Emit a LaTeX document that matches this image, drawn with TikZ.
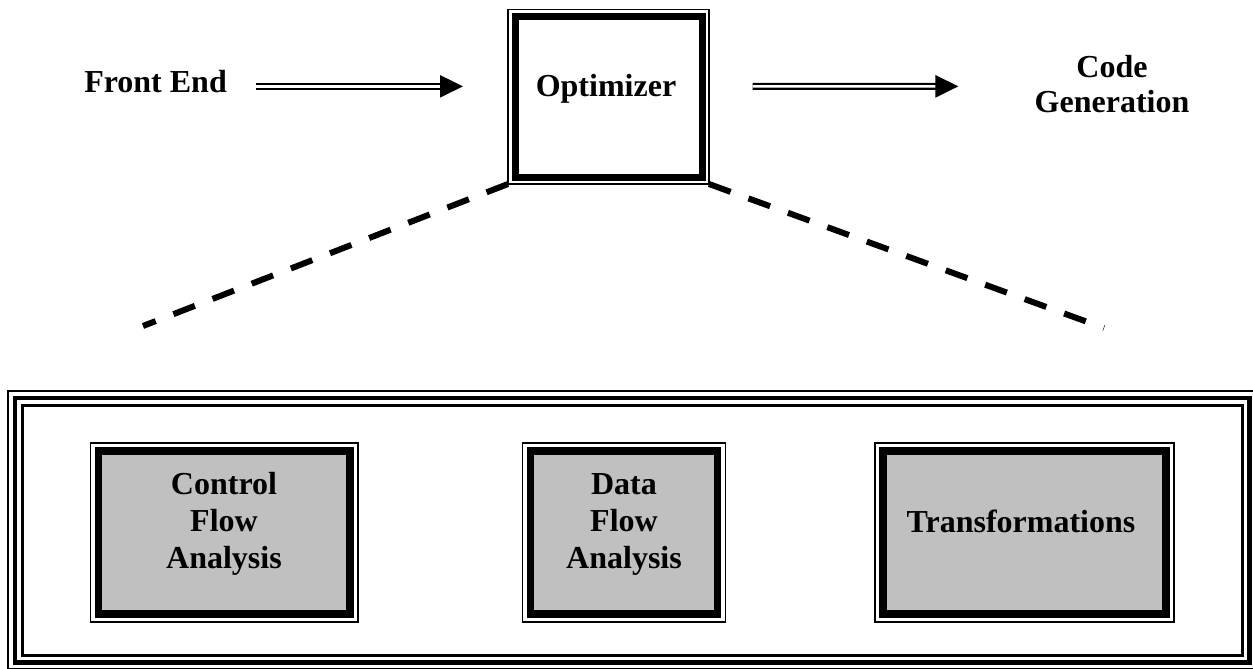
\documentclass[tikz,border=0pt]{standalone}
\usepackage{fontspec}
\setmainfont{Liberation Serif}
\usetikzlibrary{arrows.meta}
\definecolor{boxgray}{HTML}{C0C0C0}
\begin{document}
\begin{tikzpicture}[x=0.75pt,y=-0.75pt,
  lbl/.style={font=\fontsize{24pt}{27.75pt}\selectfont\bfseries, inner sep=0pt, align=center},
  optbox/.style={draw, line width=5.25pt, inner sep=0pt, outer sep=0pt},
  graybox/.style={draw, line width=5.6pt, fill=boxgray, inner sep=0pt, outer sep=0pt, minimum height=122.25pt},
  bigbox/.style={draw, line width=3.4pt, inner sep=0pt, outer sep=0pt},
  thinframe/.style={line width=1pt},
  dblarrow/.style={draw, line width=1.75pt, double, double distance=1.75pt, -{Triangle[length=17.25pt,width=16.5pt]}},
  dashline/.style={line width=4.5pt, dash pattern=on 17.25pt off 14.25pt},
]
\useasboundingbox (0,0) rectangle (1253,668);
\clip (0,0) rectangle (1253,668);

% top row
\node[optbox, minimum width=140.25pt, minimum height=120.375pt] (opt) at (608.5,96.75) {};
\node[lbl, anchor=base] (optl) at (606,96) {Optimizer};
\node[lbl, anchor=base west] (fe) at (84,92) {Front End};
\node[lbl, font=\fontsize{24pt}{26.25pt}\selectfont\bfseries] (cg) at (1112,83.6) {Code\\Generation};

% zoom lines
\coordinate (dl) at (143,326);
\coordinate (dr) at (1104,328);
\draw[dashline] ([shift={(-7,7)}]opt.south west) -- (dl);
\draw[dashline] ([shift={(7,7)}]opt.south east) -- (dr);

\draw[thinframe, line width=1.1pt] ([shift={(-7,-7)}]opt.north west) rectangle ([shift={(7,7)}]opt.south east);

% arrows
\draw[dblarrow] ([shift={(29,-5.65)}]fe.base east) -- ([shift={(-52,-10.4)}]opt.west);
\draw[dblarrow] ([shift={(50.7,-10.4)}]opt.east) -- ([shift={(-76,2.75)}]cg.west);

% big frame
\node[bigbox, minimum width=925.9pt, minimum height=198.4pt] (big) at (632.25,530.25) {};
\draw[thinframe, line width=1.5pt] ([shift={(-6.5,-6.5)}]big.north west) rectangle ([shift={(6.5,6.5)}]big.south east);
\draw[thinframe, line width=2.25pt] ([shift={(7.5,7.5)}]big.north west) rectangle ([shift={(-7.5,-7.5)}]big.south east);

% inner boxes
\node[graybox, minimum width=188.8pt] (cfa) at (224.15,532.5) {};
\node[graybox, minimum width=140.25pt] (dfa) at (624,532.5) {};
\node[graybox, minimum width=212.25pt] (tr) at (1024.5,532.5) {};
\foreach \n in {cfa,dfa,tr}
  \draw[thinframe] ([shift={(-8,-8)}]\n.north west) rectangle ([shift={(8,8)}]\n.south east);

\node[lbl] (cfat) at (224,524) {Control\\Flow\\Analysis};
\node[lbl] (dfat) at (624,524.2) {Data\\Flow\\Analysis};
\node[lbl] (trt) at (1021,521.6) {Transformations};
\end{tikzpicture}
\end{document}
